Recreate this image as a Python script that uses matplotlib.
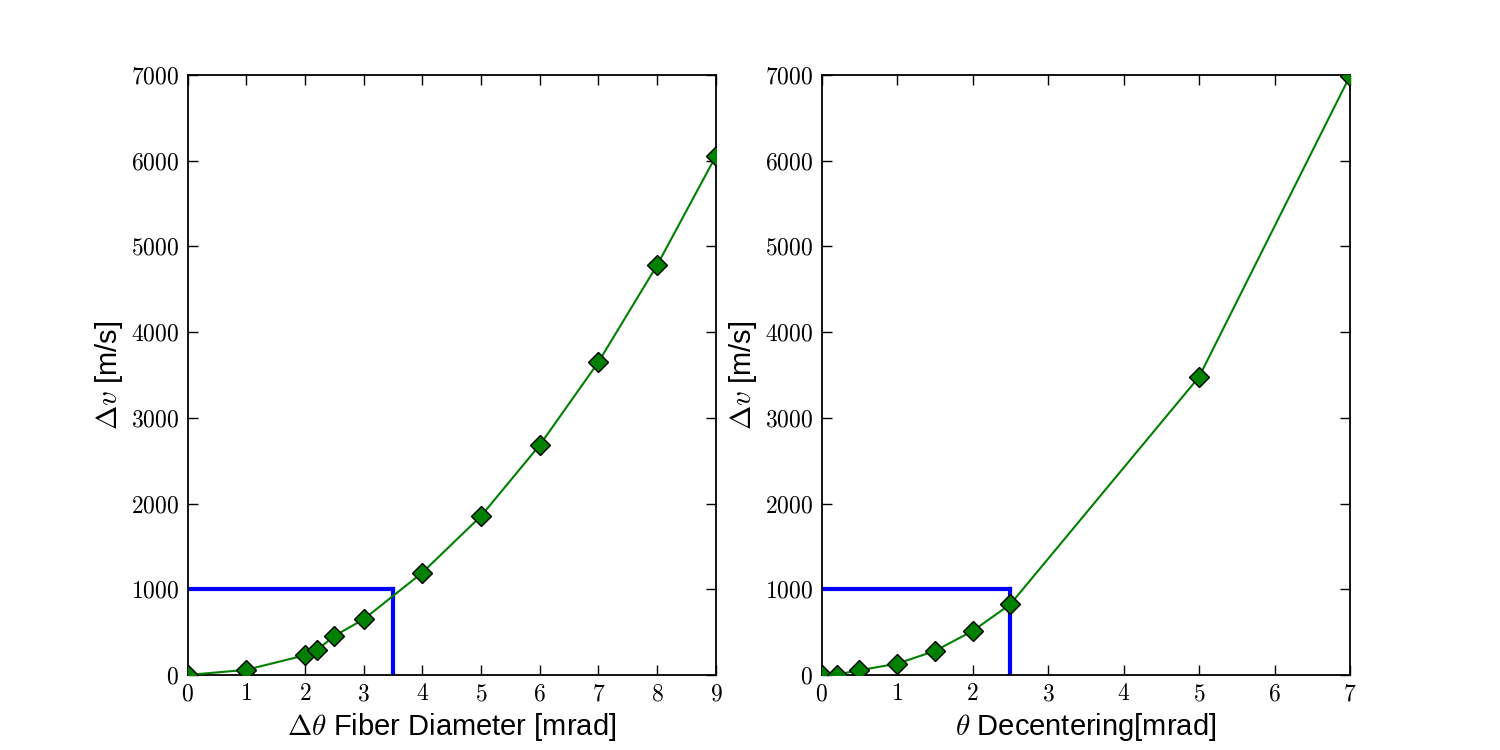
import numpy as np
import matplotlib
matplotlib.use("Agg")
import matplotlib.pyplot as plt
from matplotlib.ticker import FuncFormatter

plt.rcParams['mathtext.fontset'] = 'cm'
plt.rcParams['font.family'] = ['Liberation Sans', 'DejaVu Sans']

# fiber diameter scan
diam = [0, 1, 2, 2.2, 2.5, 3, 4, 5, 6, 7, 8, 9]
dv_diam = [0, 60, 230, 288, 455, 650, 1194, 1855, 2683, 3652, 4783, 6055]
diam_limit = 3.5

# decentering scan
dec = [0, 0.2, 0.5, 1, 1.5, 2, 2.5, 5, 7]
dv_dec = [0, 5, 55, 132, 280, 513, 825, 3477, 6990]
dec_limit = 2.5

dv_limit = 1000


def cm_fmt(v, pos):
    return r'$%d$' % int(round(v))


def panel(ax, x, y, limit, xmax, xlabel):
    ax.plot(x, y, color='green', lw=1.5, marker='D', markersize=10,
            markerfacecolor='green', markeredgecolor='black', markeredgewidth=1,
            zorder=3)
    ax.plot([0, limit], [dv_limit, dv_limit], color='blue', lw=3, zorder=2)
    ax.plot([limit, limit], [0, dv_limit], color='blue', lw=3, zorder=2)
    ax.set_xlim(0, xmax)
    ax.set_ylim(0, 7000)
    ax.set_xticks(range(0, xmax + 1))
    ax.set_yticks(range(0, 7001, 1000))
    ax.xaxis.set_major_formatter(FuncFormatter(cm_fmt))
    ax.yaxis.set_major_formatter(FuncFormatter(cm_fmt))
    ax.tick_params(direction='in', top=True, right=True, length=7, width=1,
                   labelsize=17, pad=6)
    for s in ax.spines.values():
        s.set_linewidth(1.3)
    ax.set_xlabel(xlabel, fontsize=21)
    ax.set_ylabel(r'$\Delta v$ [m/s]', fontsize=21)


fig, (ax1, ax2) = plt.subplots(1, 2, figsize=(15, 7.5), dpi=100)
fig.subplots_adjust(left=0.125, right=0.9, top=0.9, bottom=0.1, wspace=0.2)

panel(ax1, diam, dv_diam, diam_limit, 9, r'$\Delta\theta$ Fiber Diameter [mrad]')
panel(ax2, dec, dv_dec, dec_limit, 7, r'$\theta$ Decentering[mrad]')

fig.savefig('out.png', dpi=100)
